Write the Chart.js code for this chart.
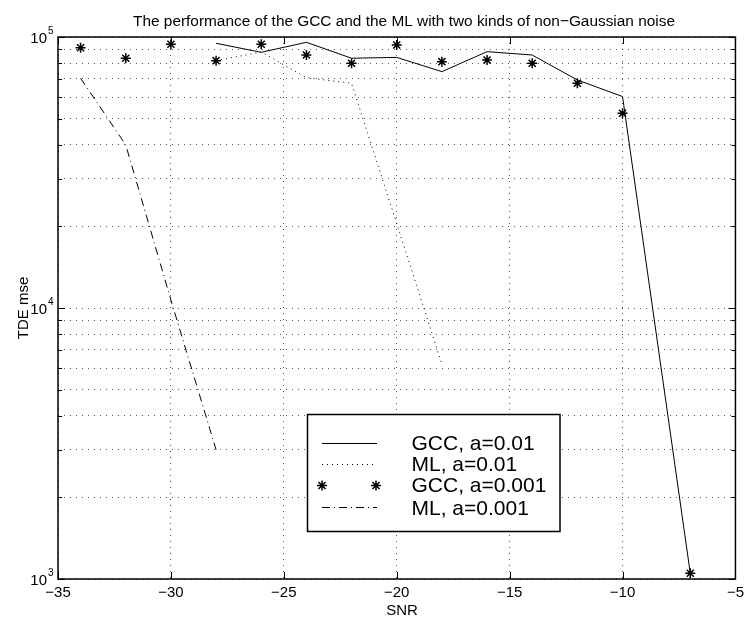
<!DOCTYPE html>
<html>
<head>
<meta charset="utf-8">
<title>GCC vs ML time delay estimation</title>
<script src="https://cdn.jsdelivr.net/npm/chart.js@4.4.1/dist/chart.umd.min.js"></script>
<style>
  body { margin: 0; background: #fff; }
  canvas { display: block; }
</style>
</head>
<body>
<canvas id="chart" width="749" height="618"></canvas>
<script>
// SNR (dB) shared by every series
const snr = [-34, -32, -30, -28, -26, -24, -22, -20, -18, -16, -14, -12, -10, -7];

// TDE mean square error (null = no point)
const gccA01  = [null, null, null, 94800, 87800, 95600, 83500, 84100, 74500, 88300, 85800, 69400, 60300, 1050];
const mlA01   = [null, null, null, 81800, 88000, 70800, 67500, 20500, 6200, null, null, null, null, null];
const gccA001 = [91300, 83500, 94000, 81800, 94000, 85800, 80000, 93400, 81100, 82200, 80000, 67500, 52300, 1050];
const mlA001  = [70400, 40000, 10700, 3000, null, null, null, null, null, null, null, null, null, null];

const seriesNames = ['GCC, a=0.01', 'ML, a=0.01', 'GCC, a=0.001', 'ML, a=0.001'];

// axis ticks
const xTicks = [-35, -30, -25, -20, -15, -10, -5];
const yTicks = [1000, 2000, 3000, 4000, 5000, 6000, 7000, 8000, 9000,
                10000, 20000, 30000, 40000, 50000, 60000, 70000, 80000, 90000, 100000];
const yDecades = [1000, 10000, 100000];

const FONT = '"Liberation Sans", Arial, Helvetica, sans-serif';

function points(values) {
    const out = [];
    values.forEach((v, i) => {
        if (v !== null) out.push({ x: snr[i], y: v });
    });
    return out;
}

function minusSign(v) {
    return v < 0 ? '\u2212' + Math.abs(v) : String(v);
}

function drawStar(ctx, x, y, r) {
    ctx.beginPath();
    ctx.moveTo(x - r, y); ctx.lineTo(x + r, y);
    ctx.moveTo(x, y - r); ctx.lineTo(x, y + r);
    const d = r * Math.SQRT1_2;
    ctx.moveTo(x - d, y - d); ctx.lineTo(x + d, y + d);
    ctx.moveTo(x - d, y + d); ctx.lineTo(x + d, y - d);
    ctx.stroke();
}

// MATLAB-like frame, inward ticks, superscript labels, titles and legend
const matlabFrame = {
    id: 'matlabFrame',
    afterDraw(chart) {
        const ctx = chart.ctx;
        const ca = chart.chartArea;
        const xs = chart.scales.x, ys = chart.scales.y;
        ctx.save();
        ctx.strokeStyle = '#000';
        ctx.fillStyle = '#000';
        ctx.setLineDash([]);

        // tick marks pointing inward
        ctx.lineWidth = 1;
        ctx.beginPath();
        xTicks.forEach(t => {
            const px = Math.round(xs.getPixelForValue(t)) + 0.5;
            ctx.moveTo(px, ca.bottom); ctx.lineTo(px, ca.bottom - 7);
            ctx.moveTo(px, ca.top); ctx.lineTo(px, ca.top + 7);
        });
        yTicks.forEach(t => {
            const py = Math.round(ys.getPixelForValue(t)) + 0.5;
            const len = yDecades.includes(t) ? 7 : 4;
            ctx.moveTo(ca.left, py); ctx.lineTo(ca.left + len, py);
            ctx.moveTo(ca.right, py); ctx.lineTo(ca.right - len, py);
        });
        ctx.stroke();

        // box
        ctx.lineWidth = 1.5;
        ctx.strokeRect(ca.left, ca.top, ca.right - ca.left, ca.bottom - ca.top);

        // y labels: 10 with exponent
        yDecades.forEach(t => {
            const py = ys.getPixelForValue(t);
            ctx.font = '15px ' + FONT;
            ctx.textAlign = 'right';
            ctx.textBaseline = 'alphabetic';
            ctx.fillText('10', ca.left - 11, py + 5.5);
            ctx.font = '10px ' + FONT;
            ctx.textAlign = 'left';
            ctx.fillText(String(Math.round(Math.log10(t))), ca.left - 10, py - 3.5);
        });

        // title and axis titles
        ctx.font = '15.4px ' + FONT;
        ctx.textAlign = 'center';
        ctx.fillText('The performance of the GCC and the ML with two kinds of non\u2212Gaussian noise', 404, 26);
        ctx.font = '15px ' + FONT;
        ctx.fillText('SNR', 402, 615);
        ctx.save();
        ctx.translate(28, (ca.top + ca.bottom) / 2);
        ctx.rotate(-Math.PI / 2);
        ctx.fillText('TDE mse', 0, 0);
        ctx.restore();

        // legend
        const lx = 307.5, ly = 414.5, lw = 252.5, lh = 117;
        ctx.fillStyle = '#fff';
        ctx.fillRect(lx, ly, lw, lh);
        ctx.lineWidth = 1.5;
        ctx.strokeRect(lx, ly, lw, lh);
        const rows = [442.5, 463.5, 484.5, 507];
        chart.data.datasets.forEach((ds, i) => {
            const y = Math.round(rows[i]) + 0.5;
            ctx.strokeStyle = '#000';
            if (ds.showLine !== false) {
                ctx.lineWidth = 1;
                ctx.setLineDash(ds.borderDash || []);
                ctx.beginPath();
                ctx.moveTo(322, y); ctx.lineTo(377, y);
                ctx.stroke();
                ctx.setLineDash([]);
            } else {
                ctx.lineWidth = 1.5;
                drawStar(ctx, 322, y, 5);
                drawStar(ctx, 376, y, 5);
            }
            ctx.fillStyle = '#000';
            ctx.font = '21px ' + FONT;
            ctx.textAlign = 'left';
            ctx.textBaseline = 'alphabetic';
            ctx.fillText(ds.label, 411.5, rows[i] + 7.5);
        });
        ctx.restore();
    }
};

const ctx = document.getElementById('chart').getContext('2d');
const chart = new Chart(ctx, {
    type: 'line',
    data: {
        datasets: [{
            label: seriesNames[0],
            data: points(gccA01),
            borderColor: '#000',
            borderWidth: 1,
            pointRadius: 0,
            fill: false
        }, {
            label: seriesNames[1],
            data: points(mlA01),
            borderColor: '#000',
            borderWidth: 1,
            borderDash: [1, 4],
            pointRadius: 0,
            fill: false
        }, {
            label: seriesNames[2],
            data: points(gccA001),
            showLine: false,
            pointStyle: 'star',
            pointRadius: 5,
            pointBorderWidth: 1.5,
            pointBorderColor: '#000',
            pointBackgroundColor: '#000'
        }, {
            label: seriesNames[3],
            data: points(mlA001),
            borderColor: '#000',
            borderWidth: 1,
            borderDash: [8, 4, 1, 4],
            pointRadius: 0,
            fill: false
        }]
    },
    options: {
        responsive: false,
        animation: false,
        devicePixelRatio: 1,
        layout: { padding: { left: 0, top: 37, right: 4, bottom: 0 } },
        plugins: {
            legend: { display: false },
            title: { display: false },
            tooltip: { enabled: false }
        },
        scales: {
            x: {
                type: 'linear',
                min: -35,
                max: -5,
                afterBuildTicks: scale => { scale.ticks = xTicks.map(v => ({ value: v })); },
                afterFit: scale => { scale.height = 39; },
                ticks: {
                    color: '#000',
                    padding: 5,
                    font: { family: FONT, size: 15 },
                    callback: v => minusSign(v)
                },
                grid: { color: 'rgba(0,0,0,0.65)', lineWidth: 1, drawTicks: false },
                border: { display: false, dash: [1, 5] }
            },
            y: {
                type: 'logarithmic',
                min: 1000,
                max: 100000,
                afterBuildTicks: scale => { scale.ticks = yTicks.map(v => ({ value: v })); },
                afterFit: scale => { scale.width = 58; },
                ticks: { display: false },
                grid: { color: 'rgba(0,0,0,0.65)', lineWidth: 1, drawTicks: false },
                border: { display: false, dash: [1, 5] }
            }
        }
    },
    plugins: [matlabFrame]
});
</script>
</body>
</html>
